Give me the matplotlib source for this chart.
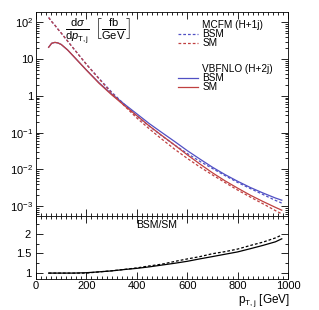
import numpy as np
import matplotlib
matplotlib.use("Agg")
import matplotlib.pyplot as plt
from matplotlib.ticker import MultipleLocator, FixedLocator, LogLocator, FuncFormatter, NullFormatter

plt.rcParams['font.family'] = ['Liberation Sans', 'DejaVu Sans']
plt.rcParams['mathtext.fontset'] = 'custom'
plt.rcParams['mathtext.rm'] = 'Liberation Sans'
plt.rcParams['mathtext.it'] = 'Liberation Sans:italic'
plt.rcParams['mathtext.sf'] = 'Liberation Sans'

# pT of the jet [GeV]
pt = [50, 62, 75, 87, 100, 125, 150, 200, 250, 300, 350, 400, 450, 500,
      550, 600, 650, 700, 750, 800, 850, 900, 950, 975]

# dsigma/dpT [fb/GeV]
mcfm_sm = [135, 105, 83, 65, 51, 31, 19, 7.2, 2.9, 1.2, 0.54, 0.25, 0.126, 0.066,
           0.0355, 0.020, 0.0117, 0.0071, 0.0044, 0.00275, 0.00178, 0.00117, 0.00076, 0.00062]
mcfm_bsm = [135, 105, 83, 65, 51, 31, 19, 7.2, 2.99, 1.27, 0.59, 0.283, 0.149, 0.081,
            0.046, 0.0272, 0.0166, 0.0106, 0.0068, 0.00443, 0.00303, 0.00209, 0.00144, 0.00122]
vbf_sm = [21, 27, 28.5, 27.5, 25, 17.8, 11.7, 5.0, 2.2, 1.07, 0.55, 0.29, 0.151, 0.083,
          0.046, 0.025, 0.0141, 0.0081, 0.0049, 0.0031, 0.0020, 0.00135, 0.00093, 0.00078]
vbf_bsm = [21, 27, 28.5, 27.5, 25, 17.8, 11.7, 5.05, 2.27, 1.13, 0.60, 0.325, 0.175, 0.100,
           0.0575, 0.0325, 0.0192, 0.0115, 0.00725, 0.00477, 0.00324, 0.0023, 0.00167, 0.00146]

blue = '#5050c4'
red = '#c04040'
dash = (0, (2.2, 1.6))
lw = 0.9

fig = plt.figure(figsize=(3.19, 3.10), dpi=100)
ax = fig.add_axes([0.113, 0.303, 0.790, 0.658])
axr = fig.add_axes([0.113, 0.100, 0.790, 0.203], sharex=ax)

ax.plot(pt, mcfm_bsm, color=blue, lw=lw, ls=dash)
ax.plot(pt, vbf_bsm, color=blue, lw=lw)
ax.plot(pt, vbf_sm, color=red, lw=lw)
ax.plot(pt, mcfm_sm, color=red, lw=lw, ls=dash)

ax.set_yscale('log')
ax.set_ylim(5.4e-4, 190)
ax.set_xlim(0, 1000)

labels = {2: r'$10^{2}$', 1: '10', 0: '1', -1: r'$10^{-1}$', -2: r'$10^{-2}$', -3: r'$10^{-3}$'}
ax.yaxis.set_major_locator(LogLocator(base=10, numticks=12))
ax.yaxis.set_major_formatter(FuncFormatter(lambda v, p: labels.get(int(round(np.log10(v))), '')))
ax.yaxis.set_minor_locator(LogLocator(base=10, subs=np.arange(2, 10), numticks=12))
ax.yaxis.set_minor_formatter(NullFormatter())

for a in (ax, axr):
    a.xaxis.set_major_locator(MultipleLocator(200))
    a.xaxis.set_minor_locator(MultipleLocator(20))
    a.tick_params(which='both', direction='in', top=True, right=True, labelsize=8, width=0.6)
    a.tick_params(which='major', length=5)
    a.tick_params(which='minor', length=2.5)
    for s in a.spines.values():
        s.set_linewidth(0.6)
ax.tick_params(labelbottom=False)
ax.tick_params(axis='y', pad=2)

# ratio panel
r_mcfm = np.array(mcfm_bsm) / np.array(mcfm_sm)
r_vbf = np.array(vbf_bsm) / np.array(vbf_sm)
axr.plot(pt, r_mcfm, color='black', lw=lw, ls=dash)
axr.plot(pt, r_vbf, color='black', lw=lw)
axr.set_ylim(0.85, 2.45)
axr.yaxis.set_major_locator(FixedLocator([1, 1.5, 2]))
axr.yaxis.set_major_formatter(FuncFormatter(lambda v, p: '{:g}'.format(v)))
axr.yaxis.set_minor_locator(MultipleLocator(0.25))
axr.tick_params(axis='x', pad=1.5)
axr.text(480, 2.36, 'BSM/SM', ha='center', va='top', fontsize=7.5)
fig.text(0.909, 0.002, r'$\mathrm{p}_{\mathrm{T,j}}$ [GeV]', ha='right', va='bottom', fontsize=8.5)

# axis title in the upper panel
ax.text(0.245, 0.905, r'$\frac{\mathrm{d}\sigma}{\mathrm{d}p_{\mathrm{T,j}}}\ \left[\frac{\mathrm{fb}}{\mathrm{GeV}}\right]$',
        transform=ax.transAxes, ha='center', va='center', fontsize=11.5)

# legend drawn by hand
rows = [('MCFM (H+1j)', None, None), ('BSM', blue, dash), ('SM', red, dash), None, None,
        ('VBFNLO (H+2j)', None, None), ('BSM', blue, '-'), ('SM', red, '-')]
y0 = 0.935
dy = 8.8 / 204
for i, row in enumerate(rows):
    if row is None:
        continue
    y = y0 - i * dy
    text, c, ls = row
    ax.text(0.659, y, text, transform=ax.transAxes, ha='left', va='center', fontsize=7.2)
    if c is not None:
        ax.plot([0.564, 0.643], [y, y], transform=ax.transAxes, color=c, lw=lw, ls=ls)

fig.savefig('out.png', dpi=100, facecolor='white')
